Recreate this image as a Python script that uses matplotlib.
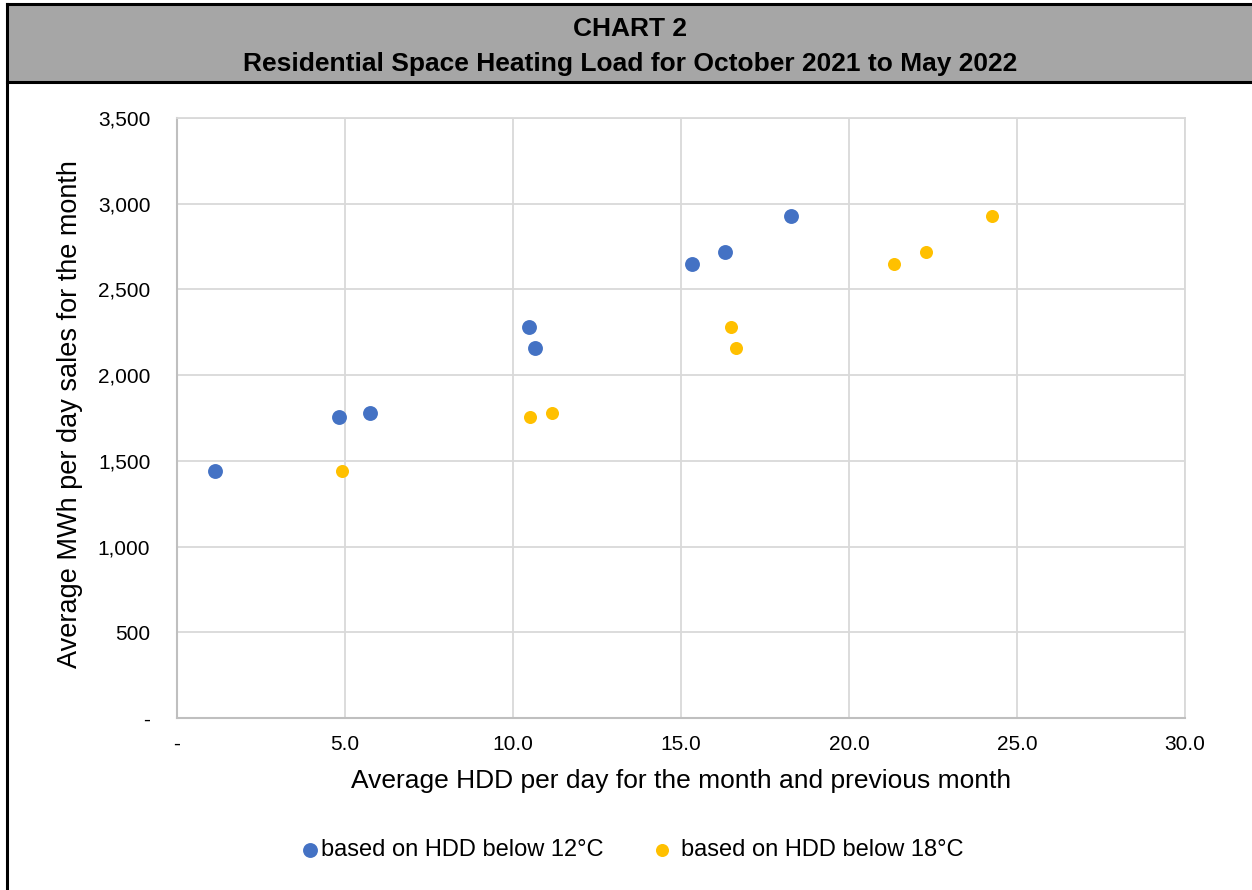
import numpy as np
import matplotlib.pyplot as plt
from matplotlib.patches import Rectangle
from matplotlib.lines import Line2D

plt.rcParams['font.family'] = ['Liberation Sans', 'DejaVu Sans']

# average HDD per day (month + previous month) and average MWh per day
hdd_12 = [1.15, 4.82, 5.76, 10.49, 10.65, 15.34, 16.31, 18.29]
hdd_18 = [4.93, 10.52, 11.18, 16.48, 16.65, 21.34, 22.30, 24.27]
mwh_12 = [1443, 1753, 1778, 2278, 2157, 2649, 2719, 2927]
mwh_18 = [1443, 1753, 1778, 2280, 2157, 2649, 2719, 2927]

x_ticks = [0, 5, 10, 15, 20, 25, 30]
y_ticks = [0, 500, 1000, 1500, 2000, 2500, 3000, 3500]

W, H = 1252, 890
fig = plt.figure(figsize=(W / 100, H / 100), dpi=100)

# header band
fig.patches.append(Rectangle((8 / W, 1 - 82 / H), 1, 78 / H, transform=fig.transFigure,
                             facecolor='#A6A6A6', edgecolor='none', zorder=0))
fig.add_artist(Line2D([7 / W, 1], [1 - 4 / H, 1 - 4 / H], color='black', lw=2.2))
fig.add_artist(Line2D([7 / W, 1], [1 - 82 / H, 1 - 82 / H], color='black', lw=2.2))
fig.add_artist(Line2D([7 / W, 7 / W], [0, 1 - 4 / H], color='black', lw=2.2))

fig.text(630 / W, 1 - 28.5 / H, 'CHART 2', ha='center', va='center',
         fontsize=19, fontweight='bold')
fig.text(630 / W, 1 - 63.5 / H, 'Residential Space Heating Load for October 2021 to May 2022',
         ha='center', va='center', fontsize=19, fontweight='bold')

ax = fig.add_axes([176.7 / W, 1 - 718 / H, (1185 - 176.7) / W, 600 / H])
s12 = ax.scatter(hdd_12, mwh_12, s=115, color='#4472C4', zorder=3, linewidths=0)
s18 = ax.scatter(hdd_18, mwh_18, s=88, color='#FFC000', zorder=3, linewidths=0)

ax.set_xlim(0, 30)
ax.set_ylim(0, 3500)
ax.set_xticks(x_ticks)
ax.set_yticks(y_ticks)
ax.set_xticklabels(['-' if v == 0 else f'{v:.1f}' for v in x_ticks])
ax.set_yticklabels(['-' if v == 0 else f'{v:,}' for v in y_ticks])
ax.tick_params(length=0, labelsize=15, colors='#000000')
ax.tick_params(axis='x', pad=12)
ax.tick_params(axis='y', pad=19)
ax.grid(True, color='#D9D9D9', lw=1.3)
ax.set_axisbelow(True)
for side in ['top', 'right']:
    ax.spines[side].set_color('#D9D9D9')
    ax.spines[side].set_linewidth(1.3)
for side in ['left', 'bottom']:
    ax.spines[side].set_color('#BFBFBF')
    ax.spines[side].set_linewidth(1.5)

ax.set_xlabel('Average HDD per day for the month and previous month', fontsize=19, labelpad=11)
ax.set_ylabel('Average MWh per day sales for the month', fontsize=19.5)
ax.yaxis.set_label_coords(-0.093, 0.507)

# legend entries placed side by side below the axis title
leg_opts = dict(loc='center left', frameon=False, fontsize=17, borderpad=0,
                handlelength=0.6, borderaxespad=0)
fig.legend([s12], ['based on HDD below 12°C'], bbox_to_anchor=(303 / W, 1 - 850 / H),
           handletextpad=0.17, **leg_opts)
fig.legend([s18], ['based on HDD below 18°C'], bbox_to_anchor=(655 / W, 1 - 850 / H),
           handletextpad=0.5, **leg_opts)

fig.savefig('out.png', dpi=100)
